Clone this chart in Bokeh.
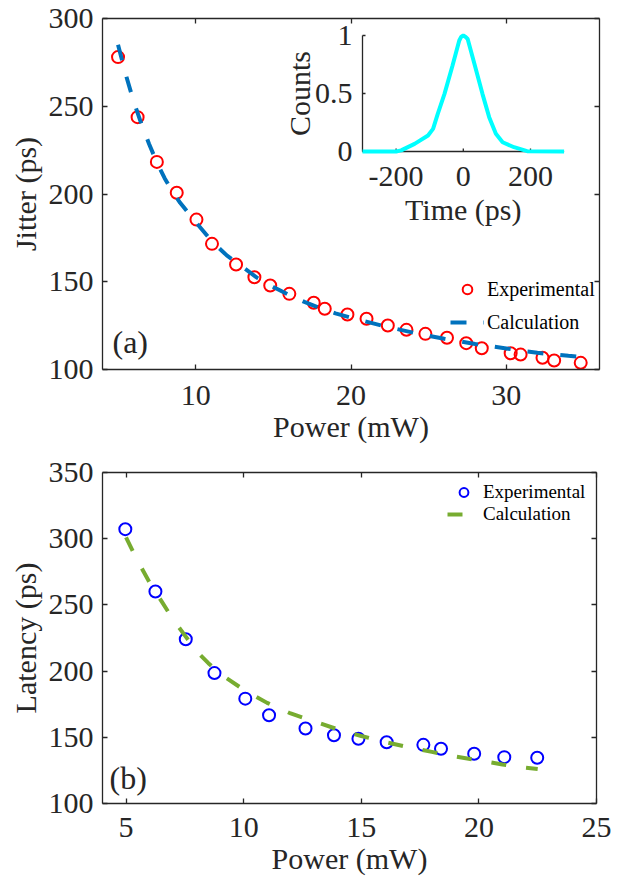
import math
from bokeh.plotting import figure
from bokeh.models import Range1d, LinearAxis, FixedTicker, Legend, LegendItem, Label
from bokeh.layouts import column
from bokeh.embed import file_html
from bokeh.resources import INLINE
from bokeh.core.properties import value

# ---------------- data ----------------
# (a) jitter vs power
power_a_exp = [5.0, 6.26, 7.5, 8.78, 10.05, 11.05, 12.6, 13.78, 14.8, 16.03, 17.6, 18.31,
               19.77, 21.0, 22.37, 23.57, 24.79, 26.18, 27.42, 28.42, 30.28, 30.92, 32.33,
               33.08, 34.79]
jitter_exp = [278, 243.8, 218.3, 200.7, 185.4, 171.6, 159.8, 152.6, 147.9, 143.1, 138, 134.6,
              131.3, 128.9, 125.1, 122.6, 120.3, 118.1, 115, 112.1, 109.3, 108.5, 106.7,
              105.1, 103.8]
power_a_calc = [5, 5.5, 6, 6.5, 7, 7.5, 8, 8.5, 9, 10, 11, 12, 13, 14, 15, 16, 17, 18, 19, 20,
                22, 24, 26, 28, 30, 32, 34, 35]
jitter_calc = [285, 268, 253, 240, 228.5, 218, 209, 201.5, 195, 184, 173.5, 165, 158.5, 152,
               147, 142.5, 138.5, 135, 132, 129.5, 125, 121, 117.5, 114.5, 112, 109.5, 107.8, 107]
power_a_ticks = [10, 20, 30]
jitter_ticks = [100, 150, 200, 250, 300]

# inset: timing histogram
inset_time = [-300, -200, -185, -145, -105, -90, -76, -56, -32, -12, -6, 0, 6, 13, 33, 57,
              77, 97, 117, 151, 190, 300]
inset_counts = [0, 0, 0.01, 0.066, 0.138, 0.195, 0.325, 0.497, 0.741, 0.957, 0.99, 1.0,
                0.99, 0.97, 0.756, 0.497, 0.296, 0.152, 0.08, 0.037, 0.003, 0]
inset_time_ticks = [-200, 0, 200]
inset_time_labels = ["-200", "0", "200"]
inset_count_ticks = [0, 0.5, 1]
inset_count_labels = ["0", "0.5", "1"]
inset_time_lim = (-300, 300)
inset_count_lim = (0, 1)

# (b) latency vs power
power_b_exp = [4.97, 6.25, 7.54, 8.76, 10.07, 11.08, 12.63, 13.84, 14.88, 16.08, 17.64,
               18.39, 19.8, 21.08, 22.48]
latency_exp = [307.2, 260.1, 224, 198.5, 179.2, 166.6, 156.6, 151.6, 148.9, 146.3, 144.3,
               141.3, 137.6, 135, 134.6]
power_b_calc = [5, 5.5, 6, 6.5, 7, 7.5, 8, 8.5, 9, 10, 11, 12, 13, 14, 15, 16, 17, 18, 19,
                20, 21, 22, 22.5]
latency_calc = [301, 283, 267, 253, 239, 227, 215, 206, 198, 186, 176, 168, 162, 156, 151,
                146.5, 142.5, 139, 135.5, 132.5, 129.5, 127, 126]
power_b_ticks = [5, 10, 15, 20, 25]
latency_ticks = [100, 150, 200, 250, 300, 350]

# ---------------- style ----------------
FONT = "Liberation Serif"
INK = "#262626"
TICK_FS = "30px"
LABEL_FS = "30px"


def style_axis(ax, ticks, label_standoff, tick_standoff):
    ax.ticker = FixedTicker(ticks=ticks)
    ax.major_tick_in = 5
    ax.major_tick_out = 0
    ax.minor_tick_line_color = None
    ax.axis_line_color = INK
    ax.axis_line_width = 1.3
    ax.major_tick_line_color = INK
    ax.major_tick_line_width = 1.3
    ax.major_label_text_font = FONT
    ax.major_label_text_font_size = TICK_FS
    ax.major_label_text_color = INK
    ax.major_label_standoff = tick_standoff
    ax.axis_label_text_font = FONT
    ax.axis_label_text_font_size = LABEL_FS
    ax.axis_label_text_font_style = "normal"
    ax.axis_label_text_color = INK
    ax.axis_label_standoff = label_standoff


def hidden_axis(ticks):
    return LinearAxis(ticker=FixedTicker(ticks=ticks), major_label_text_font_size="1px",
                      major_label_text_color=None,
                      major_tick_in=5, major_tick_out=0, minor_tick_line_color=None,
                      axis_line_color=INK, axis_line_width=1.3, major_tick_line_color=INK,
                      major_tick_line_width=1.3, major_label_standoff=0)


def make_fig(fw, fh, xr, yr, xlabel, ylabel, xticks, yticks, top, bottom, right, xstand):
    p = figure(frame_width=fw, frame_height=fh, x_range=xr, y_range=yr,
               output_backend="svg", toolbar_location=None,
               min_border_left=102, min_border_right=right, min_border_top=top,
               min_border_bottom=bottom, x_axis_label=xlabel, y_axis_label=ylabel)
    p.grid.visible = False
    p.outline_line_color = None
    p.background_fill_color = "white"
    p.border_fill_color = "white"
    style_axis(p.xaxis[0], xticks, 2, xstand)
    style_axis(p.yaxis[0], yticks, 4, 9)
    p.add_layout(hidden_axis(xticks), "above")
    p.add_layout(hidden_axis(yticks), "right")
    return p


# ---------------- panel (a) ----------------
FW1, FH1 = 497, 351
p1 = make_fig(FW1, FH1, (4, 36), (100, 300), "Power (mW)", "Jitter (ps)",
              power_a_ticks, jitter_ticks, top=18, bottom=80, right=18, xstand=16)

r_exp_a = p1.scatter(power_a_exp, jitter_exp, marker="circle", size=12, fill_color=None,
                     line_color="#FF0000", line_width=2)
r_calc_a = p1.line(power_a_calc, jitter_calc, line_color="#0072BD", line_width=4,
                   line_dash="16 17")

leg_a = Legend(items=[LegendItem(label="Experimental", renderers=[r_exp_a]),
                      LegendItem(label="Calculation", renderers=[r_calc_a])],
               location=(348, 35), border_line_color=None, background_fill_alpha=0,
               padding=0, margin=0, spacing=9, glyph_width=34, glyph_height=24,
               label_height=24, label_standoff=3, label_text_font=FONT,
               label_text_font_size="20px", label_text_color="black")
p1.add_layout(leg_a)

p1.add_layout(Label(x=10, y=28, x_units="screen", y_units="screen", text="(a)",
                    text_font=FONT, text_font_size="32px", text_color=INK,
                    text_baseline="middle"))

# inset drawn on extra ranges of panel (a)
box_left, box_right, box_top, box_bottom = 260, 461.6, 17, 133  # px inside frame
t0, t1 = inset_time_lim
c0, c1 = inset_count_lim
ux = (t1 - t0) / (box_right - box_left)
uy = (c1 - c0) / (box_bottom - box_top)
p1.extra_x_ranges = {"ix": Range1d(t0 - box_left * ux, t1 + (FW1 - box_right) * ux)}
p1.extra_y_ranges = {"iy": Range1d(c0 - (FH1 - box_bottom) * uy, c1 + box_top * uy)}
ir = dict(x_range_name="ix", y_range_name="iy")

p1.segment(x0=[t0, t0], y0=[c0, c0], x1=[t0, t1], y1=[c1, c0], line_color=INK,
           line_width=1.3, **ir)
p1.segment(x0=[t0] * len(inset_count_ticks), y0=inset_count_ticks,
           x1=[t0 + 3 * ux] * len(inset_count_ticks), y1=inset_count_ticks,
           line_color=INK, line_width=1.3, **ir)
p1.segment(x0=inset_time_ticks, y0=[c0] * len(inset_time_ticks),
           x1=inset_time_ticks, y1=[c0 + 3 * uy] * len(inset_time_ticks),
           line_color=INK, line_width=1.3, **ir)
p1.line(inset_time, inset_counts, line_color="#00FFFF", line_width=4, **ir)
txt = dict(text_font=value(FONT), text_font_size=value(TICK_FS), text_color=INK)
p1.text(x=inset_time_ticks, y=[c0] * len(inset_time_ticks), text=inset_time_labels,
        text_align="center", text_baseline="middle", y_offset=25, **txt, **ir)
p1.text(x=[t0] * len(inset_count_ticks), y=inset_count_ticks, text=inset_count_labels,
        text_align="right", text_baseline="middle", x_offset=-10, y_offset=0,
        **txt, **ir)
p1.text(x=[(t0 + t1) / 2], y=[c0], text=["Time (ps)"], text_align="center",
        text_baseline="middle", y_offset=58, **txt, **ir)
p1.text(x=[t0 - 63 * ux], y=[(c0 + c1) / 2], text=["Counts"], angle=math.pi / 2,
        text_align="center", text_baseline="middle", **txt, **ir)

# ---------------- panel (b) ----------------
FW2, FH2 = 494, 331
p2 = make_fig(FW2, FH2, (4, 25), (100, 350), "Power (mW)", "Latency (ps)",
              power_b_ticks, latency_ticks, top=23, bottom=79, right=20, xstand=14)

r_exp_b = p2.scatter(power_b_exp, latency_exp, marker="circle", size=12, fill_color=None,
                     line_color="#0000FF", line_width=2)
r_calc_b = p2.line(power_b_calc, latency_calc, line_color="#77AC30", line_width=4,
                   line_dash="15 20")

leg_b = Legend(items=[LegendItem(label="Experimental", renderers=[r_exp_b]),
                      LegendItem(label="Calculation", renderers=[r_calc_b])],
               location=(345, 278), border_line_color=None, background_fill_alpha=0,
               padding=0, margin=0, spacing=0, glyph_width=33, glyph_height=22,
               label_height=22, label_standoff=3, label_text_font=FONT,
               label_text_font_size="19px", label_text_color="black")
p2.add_layout(leg_b)

p2.add_layout(Label(x=7, y=26, x_units="screen", y_units="screen", text="(b)",
                    text_font=FONT, text_font_size="32px", text_color=INK,
                    text_baseline="middle"))

layout = column(p1, p2)
open("out.html", "w").write(file_html(layout, INLINE))
